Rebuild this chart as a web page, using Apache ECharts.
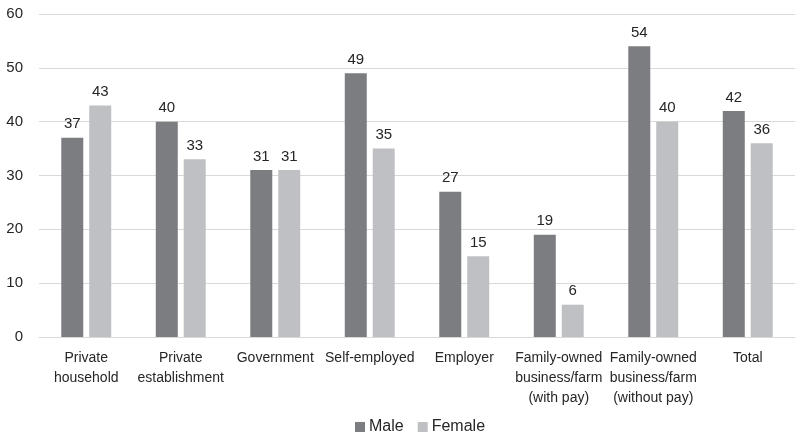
<!DOCTYPE html>
<html><head><meta charset="utf-8">
<script src="https://cdn.jsdelivr.net/npm/echarts@6/dist/echarts.min.js"></script>
<style>html,body{margin:0;padding:0;background:#fff}#c{width:805px;height:440px}</style>
</head><body><div id="c"></div>
<script>
const categories = ['Private\nhousehold','Private\nestablishment','Government','Self-employed','Employer','Family-owned\nbusiness/farm\n(with pay)','Family-owned\nbusiness/farm\n(without pay)','Total'];
const male = [37,40,31,49,27,19,54,42];
const female = [43,33,31,35,15,6,40,36];
const yTicks = {min:0,max:60,interval:10};
const font = 'Liberation Sans, Arial, sans-serif';
const chart = echarts.init(document.getElementById('c'));
const lbl = {show:true,position:'top',color:'#262626',fontSize:15,fontFamily:font,distance:6};
chart.setOption({
  animation:false,
  textStyle:{fontFamily:font},
  grid:{left:39,right:10,top:14,bottom:103},
  legend:{bottom:0,left:350,itemWidth:10,itemHeight:10,itemGap:14,icon:'rect',
    textStyle:{fontSize:16,color:'#262626',fontFamily:font,padding:[0,0,0,-1]},data:['Male','Female']},
  xAxis:{type:'category',data:categories,
    axisLine:{lineStyle:{color:'#d9d9d9',width:1}},axisTick:{show:false},
    axisLabel:{color:'#262626',fontSize:14,fontFamily:font,interval:0,lineHeight:20,margin:11}},
  yAxis:{type:'value',min:yTicks.min,max:yTicks.max,interval:yTicks.interval,
    splitLine:{lineStyle:{color:'#d9d9d9'}},axisLine:{show:false},axisTick:{show:false},
    axisLabel:{color:'#262626',fontSize:15,fontFamily:font,margin:16}},
  series:[
    {name:'Male',type:'bar',data:male,barWidth:22,barGap:'27%',itemStyle:{color:'#7c7d81'},label:lbl},
    {name:'Female',type:'bar',data:female,barWidth:22,itemStyle:{color:'#bfc0c4'},label:lbl}
  ]
});
</script></body></html>
